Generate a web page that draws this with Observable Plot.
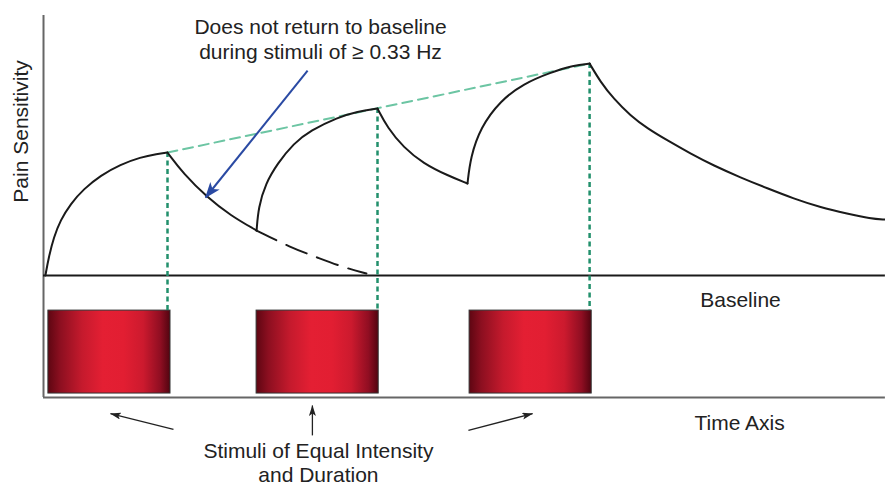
<!DOCTYPE html>
<html>
<head>
<meta charset="utf-8">
<script src="https://cdn.jsdelivr.net/npm/d3@7"></script>
<script src="https://cdn.jsdelivr.net/npm/@observablehq/plot@0.6"></script>
<style>
  html, body { margin: 0; padding: 0; background: #fff; }
  #chart svg { display: block; }
</style>
</head>
<body>
<div id="chart"></div>
<script>
// ---- Data (time units, sensitivity units; baseline = 0) ----
const rise1 = [[-0.07,0],[0.04,0.70],[0.21,1.47],[0.43,2.12],[0.77,2.76],[1.21,3.33],[1.77,3.85],[2.43,4.27],[3.1,4.55],[3.66,4.68],[4.0,4.73]];
const decay1 = [[4.0,4.73],[4.53,3.92],[5.33,3.0],[6.1,2.31],[6.97,1.73]];
const decay1Cont = [[6.97,1.73],[8.1,1.08],[9.0,0.69],[9.87,0.31],[10.63,0.08]];
const rise2 = [[6.97,1.73],[7.03,2.62],[7.27,3.54],[7.67,4.31],[8.2,5.08],[8.77,5.58],[9.67,6.08],[10.33,6.31],[11.0,6.42]];
const decay2 = [[11.0,6.42],[11.33,5.69],[11.87,4.92],[12.53,4.31],[13.33,3.85],[14.0,3.54]];
const rise3 = [[14.0,3.54],[14.1,4.54],[14.43,5.69],[15.1,6.73],[15.87,7.38],[16.77,7.81],[17.53,8.08],[18.07,8.15]];
const decay3 = [[18.07,8.15],[18.43,7.45],[18.87,6.8],[19.43,6.15],[20.0,5.65],[20.67,5.19],[21.43,4.69],[22.2,4.23],[23.1,3.77],[24.0,3.35],[24.87,2.96],[25.77,2.62],[26.67,2.38],[27.43,2.19],[27.93,2.15]];
const peakTimes = [4.0, 11.0, 18.07];
const peakValues = [4.73, 6.42, 8.15];
const stimStart = [0.03, 6.97, 14.07];
const stimDuration = 4.07;
const stimTop = -1.35, stimBottom = -4.54;
const labels = {
  note: "Does not return to baseline\nduring stimuli of \u2265 0.33 Hz",
  yLabel: "Pain Sensitivity",
  baseline: "Baseline",
  time: "Time Axis",
  stimuli: "Stimuli of Equal Intensity\nand Duration"
};

const toPts = (arr, seg) => arr.map(([t, s]) => ({t, s, seg}));
const solid = [
  ...toPts(rise1, "r1"), ...toPts(decay1, "d1"), ...toPts(rise2, "r2"),
  ...toPts(decay2, "d2"), ...toPts(rise3, "r3"), ...toPts(decay3, "d3")
];
const dashed = toPts(decay1Cont, "dc");
const peaks = peakTimes.map((t, i) => ({t, s: peakValues[i]}));
const envelope = [peaks[0], peaks[2]];
const stimuli = stimStart.map(t => ({x1: t, x2: t + stimDuration}));

const font = "'Liberation Sans', Arial, Helvetica, sans-serif";
const ink = "#222";

const chart = Plot.plot({
  width: 885,
  height: 485,
  margin: 0,
  style: {fontFamily: font, background: "#fff", color: ink},
  x: {type: "linear", domain: [0, 28], range: [47, 887], axis: null},
  y: {type: "linear", domain: [0, 10], range: [275, 15], axis: null},
  marks: [
    // axes
    Plot.ruleX([-0.133], {y1: -4.69, y2: 10, stroke: "#666", strokeWidth: 2}),
    Plot.ruleY([-4.69], {x1: -0.133, x2: 27.93, stroke: "#666", strokeWidth: 2}),
    // baseline
    Plot.ruleY([0], {x1: -0.133, x2: 27.93, stroke: "#1a1a1a", strokeWidth: 2}),
    // stimuli bars
    Plot.rect(stimuli, {x1: "x1", x2: "x2", y1: stimBottom, y2: stimTop, fill: "url(#stimGrad)", stroke: "#333", strokeWidth: 1}),
    // dotted verticals
    Plot.ruleX(peaks, {x: "t", y1: "s", y2: stimTop, stroke: "#22906c", strokeWidth: 2.5, strokeDasharray: "5,3.5"}),
    // envelope
    Plot.line(envelope, {x: "t", y: "s", stroke: "#6cc5a3", strokeWidth: 2, strokeDasharray: "10,6"}),
    // response curve
    Plot.line(solid, {x: "t", y: "s", z: "seg", curve: "basis", stroke: "#1a1a1a", strokeWidth: 2}),
    Plot.line(dashed, {x: "t", y: "s", curve: "basis", stroke: "#1a1a1a", strokeWidth: 2, strokeDasharray: "22,11"}),
    // blue annotation arrow
    Plot.link([{x1: 8.67, y1: 7.88, x2: 5.27, y2: 3.0}], {x1: "x1", y1: "y1", x2: "x2", y2: "y2", stroke: "#2a4aa3", strokeWidth: 2, className: "blue-arrow"}),
    // black arrows
    Plot.link([
      {x1: 4.2, y1: -5.92, x2: 2.1, y2: -5.31},
      {x1: 8.83, y1: -6.15, x2: 8.83, y2: -5.0},
      {x1: 14.03, y1: -5.96, x2: 16.17, y2: -5.31}
    ], {x1: "x1", y1: "y1", x2: "x2", y2: "y2", stroke: "#222", strokeWidth: 1.3, className: "black-arrow"}),
    // texts
    Plot.text([labels.note], {x: 9.1, y: 9.1, text: d => d, fontSize: 21, lineHeight: 1.19, fill: ink, textAnchor: "middle"}),
    Plot.text([labels.yLabel], {x: -0.87, y: 5.54, text: d => d, fontSize: 21, rotate: -90, fill: ink}),
    Plot.text([labels.baseline], {x: 23.1, y: -0.96, text: d => d, fontSize: 21, fill: ink}),
    Plot.text([labels.time], {x: 23.07, y: -5.69, text: d => d, fontSize: 21, fill: ink}),
    Plot.text([labels.stimuli], {x: 9.03, y: -7.19, text: d => d, fontSize: 21, lineHeight: 1.15, fill: ink, textAnchor: "middle"})
  ]
});

// gradient + arrowhead markers
const ns = "http://www.w3.org/2000/svg";
const defs = document.createElementNS(ns, "defs");
defs.innerHTML = `
  <linearGradient id="stimGrad" x1="0" x2="1" y1="0" y2="0">
    <stop offset="0" stop-color="#5e0612"/>
    <stop offset="0.1" stop-color="#8c0f20"/>
    <stop offset="0.28" stop-color="#c51a2d"/>
    <stop offset="0.45" stop-color="#e41f33"/>
    <stop offset="0.62" stop-color="#e21e32"/>
    <stop offset="0.78" stop-color="#cc1a2e"/>
    <stop offset="0.92" stop-color="#900e22"/>
    <stop offset="1" stop-color="#520410"/>
  </linearGradient>
  <marker id="blueHead" viewBox="0 0 16 12" refX="15" refY="6" markerWidth="16" markerHeight="12" markerUnits="userSpaceOnUse" orient="auto">
    <path d="M0,0 L16,6 L0,12 L4,6 Z" fill="#2a4aa3"/>
  </marker>
  <marker id="blackHead" viewBox="0 0 11 7" refX="10.5" refY="3.5" markerWidth="11" markerHeight="7" markerUnits="userSpaceOnUse" orient="auto">
    <path d="M0,0 L11,3.5 L0,7 L2.5,3.5 Z" fill="#222"/>
  </marker>`;
chart.insertBefore(defs, chart.firstChild);
chart.querySelectorAll(".blue-arrow path").forEach(p => p.setAttribute("marker-end", "url(#blueHead)"));
chart.querySelectorAll(".black-arrow path").forEach(p => p.setAttribute("marker-end", "url(#blackHead)"));

document.getElementById("chart").appendChild(chart);
</script>
</body>
</html>
